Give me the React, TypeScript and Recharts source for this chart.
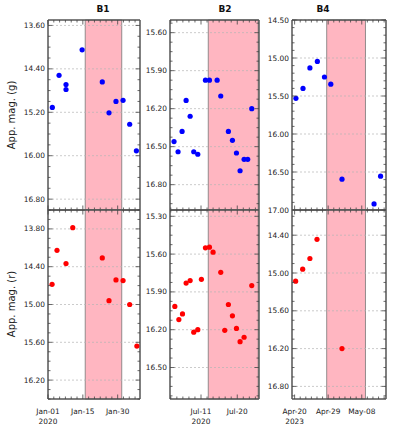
import React from 'react';
import { ScatterChart, Scatter, XAxis, YAxis, ReferenceArea, ReferenceLine } from 'recharts';

// days since Jan-01 2020 (B1), Jul-01 2020 (B2), Apr-20 2023 (B4)
const b1DaysG = [1.8, 4.6, 7.5, 7.5, 14.2, 22.6, 25.4, 28.3, 31.25, 34.0, 36.8];
const b1MagG = [15.11, 14.52, 14.69, 14.78, 14.05, 14.64, 15.21, 15.0, 14.98, 15.42, 15.91];
const b1DaysR = [1.7, 3.75, 7.5, 10.3, 22.6, 25.4, 28.3, 31.25, 34.0, 37.0];
const b1MagR = [14.68, 14.14, 14.35, 13.78, 14.26, 14.94, 14.61, 14.62, 15.0, 15.66];

const b2DaysG = [3.3, 4.3, 5.3, 6.3, 7.3, 8.2, 9.2, 11.1, 12.1, 14.0, 14.9, 16.8, 17.8, 18.8, 19.7, 20.7, 21.6, 22.6];
const b2MagG = [16.46, 16.54, 16.38, 16.135, 16.26, 16.54, 16.56, 15.975, 15.975, 15.975, 16.1, 16.38, 16.45, 16.55, 16.69, 16.6, 16.6, 16.2];
const b2DaysR = [3.5, 4.5, 5.4, 6.3, 7.3, 8.2, 9.2, 10.1, 11.1, 12.1, 13.0, 14.9, 15.9, 16.8, 17.8, 18.8, 19.7, 20.7, 22.6];
const b2MagR = [16.015, 16.12, 16.075, 15.83, 15.81, 16.22, 16.2, 15.8, 15.55, 15.545, 15.585, 15.745, 16.205, 16.0, 16.09, 16.19, 16.295, 16.26, 15.85];

const b4DaysG = [0.35, 2.25, 4.1, 6.1, 8.0, 9.7, 12.7, 21.3, 23.05];
const b4MagG = [15.53, 15.4, 15.13, 15.045, 15.25, 15.345, 16.595, 16.92, 16.555];
const b4DaysR = [0.27, 2.16, 4.1, 6.0, 12.7];
const b4MagR = [15.13, 14.94, 14.77, 14.465, 16.2];

// tick values / labels
const b1XTicks = [0, 14.5, 29];
const b1XLabels = [['Jan-01', '2020'], ['Jan-15'], ['Jan-30']];
const b2XTicks = [10, 19];
const b2XLabels = [['Jul-11', '2020'], ['Jul-20']];
const b4XTicks = [0, 9, 18];
const b4XLabels = [['Apr-20', '2023'], ['Apr-29'], ['May-08']];

const b1YTicksG = [13.6, 14.4, 15.2, 16.0, 16.8];
const b1YTicksR = [13.8, 14.4, 15.0, 15.6, 16.2];
const b2YTicksG = [15.6, 15.9, 16.2, 16.5, 16.8];
const b2YTicksR = [15.3, 15.6, 15.9, 16.2, 16.5];
const b4YTicksG = [14.5, 15.0, 15.5, 16.0, 16.5, 17.0];
const b4YTicksR = [14.4, 15.0, 15.6, 16.2, 16.8];

const AXIS = '#555';
const TICK = '#444';
const TXT = '#222';
const FONT = '"DejaVu Sans", sans-serif';

const zip = (xs: number[], ys: number[]) => xs.map((x, i) => ({ x, y: ys[i] }));

function withMinor(majors: number[], step: number, lo: number, hi: number) {
  const out: number[] = [];
  let v = majors[0];
  while (v - step >= lo - 1e-9) v -= step;
  for (; v <= hi + 1e-9; v += step) out.push(Math.round(v * 10000) / 10000);
  return out;
}
const isMajor = (v: number, majors: number[]) => majors.some((m) => Math.abs(m - v) < 1e-6);

interface PanelProps {
  left: number;
  top: number;
  w: number;
  h: number;
  data: { x: number; y: number }[];
  color: string;
  xDomain: [number, number];
  xMajors: number[];
  xStep: number;
  xLabels?: string[][];
  yDomain: [number, number];
  yMajors: number[];
  yStep: number;
  shade: [number, number];
}

const ML = 45;
const MT = 6;
const MR = 6;
const MB = 30;

function Panel(p: PanelProps) {
  const xt = withMinor(p.xMajors, p.xStep, p.xDomain[0], p.xDomain[1]);
  const yt = withMinor(p.yMajors, p.yStep, p.yDomain[0], p.yDomain[1]);

  const tickL = (t: any) => {
    const v = t.payload.value;
    const mj = isMajor(v, p.yMajors);
    return (
      <g>
        <line x1={t.x} x2={t.x + (mj ? 4.5 : 2.5)} y1={t.y} y2={t.y} stroke={TICK} strokeWidth={0.8} />
        {mj && (
          <text x={t.x - 3} y={t.y} dy="0.35em" textAnchor="end" fontSize={7.4} fill={TXT} fontFamily={FONT}>
            {v.toFixed(2)}
          </text>
        )}
      </g>
    );
  };
  const tickR = (t: any) => {
    const mj = isMajor(t.payload.value, p.yMajors);
    return <line x1={t.x} x2={t.x - (mj ? 4.5 : 2.5)} y1={t.y} y2={t.y} stroke={TICK} strokeWidth={0.8} />;
  };
  const tickT = (t: any) => {
    const mj = isMajor(t.payload.value, p.xMajors);
    return <line x1={t.x} x2={t.x} y1={t.y} y2={t.y + (mj ? 4.5 : 2.5)} stroke={TICK} strokeWidth={0.8} />;
  };
  const tickB = (t: any) => {
    const v = t.payload.value;
    const idx = p.xMajors.findIndex((m) => Math.abs(m - v) < 1e-6);
    const lines = idx >= 0 && p.xLabels ? p.xLabels[idx] : [];
    return (
      <g>
        <line x1={t.x} x2={t.x} y1={t.y} y2={t.y - (idx >= 0 ? 4.5 : 2.5)} stroke={TICK} strokeWidth={0.8} />
        {lines.map((s, i) => (
          <text key={i} x={t.x} y={t.y + 14.5 + i * 10} textAnchor="middle" fontSize={7.4} fill={TXT} fontFamily={FONT}>
            {s}
          </text>
        ))}
      </g>
    );
  };

  return (
    <div style={{ position: 'absolute', left: p.left - ML, top: p.top - MT }}>
      <ScatterChart width={p.w + ML + MR} height={p.h + MT + MB} margin={{ top: 0, right: 0, bottom: 0, left: 0 }}>
        <XAxis
          xAxisId="b"
          orientation="bottom"
          type="number"
          dataKey="x"
          domain={p.xDomain}
          allowDataOverflow
          ticks={xt}
          interval={0}
          tickSize={0}
          tickMargin={0}
          tickLine={false}
          axisLine={{ stroke: AXIS, strokeWidth: 1.5 }}
          tick={tickB}
          height={MB}
        />
        <XAxis
          xAxisId="t"
          orientation="top"
          type="number"
          dataKey="x"
          domain={p.xDomain}
          allowDataOverflow
          ticks={xt}
          interval={0}
          tickSize={0}
          tickMargin={0}
          tickLine={false}
          axisLine={{ stroke: AXIS, strokeWidth: 1.5 }}
          tick={tickT}
          height={MT}
        />
        <YAxis
          yAxisId="l"
          orientation="left"
          type="number"
          dataKey="y"
          domain={p.yDomain}
          reversed
          allowDataOverflow
          ticks={yt}
          interval={0}
          tickSize={0}
          tickMargin={0}
          tickLine={false}
          axisLine={{ stroke: AXIS, strokeWidth: 1.5 }}
          tick={tickL}
          width={ML}
        />
        <YAxis
          yAxisId="r"
          orientation="right"
          type="number"
          dataKey="y"
          domain={p.yDomain}
          reversed
          allowDataOverflow
          ticks={yt}
          interval={0}
          tickSize={0}
          tickMargin={0}
          tickLine={false}
          axisLine={{ stroke: AXIS, strokeWidth: 1.5 }}
          tick={tickR}
          width={MR}
        />
        <ReferenceArea
          xAxisId="b"
          yAxisId="l"
          x1={p.shade[0]}
          x2={p.shade[1]}
          fill="#ffb6c1"
          fillOpacity={1}
          stroke="#777"
          strokeWidth={0.8}
        />
        {p.yMajors.map((v) => (
          <ReferenceLine key={v} xAxisId="b" yAxisId="l" y={v} stroke="#b5b5b5" strokeDasharray="2 2" strokeWidth={0.7} />
        ))}
        <Scatter
          xAxisId="b"
          yAxisId="l"
          data={p.data}
          isAnimationActive={false}
          shape={(s: any) => <circle cx={s.cx} cy={s.cy} r={2.6} fill={p.color} />}
        />
      </ScatterChart>
    </div>
  );
}

const COLS = [
  { left: 48, w: 92 },
  { left: 170, w: 89 },
  { left: 292, w: 94 },
];
const ROWS = [
  { top: 20, h: 190 },
  { top: 210, h: 189 },
];

export default function App() {
  return (
    <div style={{ position: 'absolute', left: 0, top: 0, width: 397, height: 427, background: '#fff', fontFamily: FONT }}>
      <Panel {...COLS[0]} {...ROWS[0]} data={zip(b1DaysG, b1MagG)} color="#0000ff" xDomain={[0, 38.3]} xMajors={b1XTicks} xStep={14.5 / 6} yDomain={[13.5, 17.0]} yMajors={b1YTicksG} yStep={0.2} shade={[15.5, 30.7]} />
      <Panel {...COLS[0]} {...ROWS[1]} data={zip(b1DaysR, b1MagR)} color="#ff0000" xDomain={[0, 38.3]} xMajors={b1XTicks} xStep={14.5 / 6} xLabels={b1XLabels} yDomain={[13.5, 16.5]} yMajors={b1YTicksR} yStep={0.15} shade={[15.5, 30.7]} />
      <Panel {...COLS[1]} {...ROWS[0]} data={zip(b2DaysG, b2MagG)} color="#0000ff" xDomain={[2.3, 24.4]} xMajors={b2XTicks} xStep={1.5} yDomain={[15.5, 17.0]} yMajors={b2YTicksG} yStep={0.075} shade={[11.8, 24.2]} />
      <Panel {...COLS[1]} {...ROWS[1]} data={zip(b2DaysR, b2MagR)} color="#ff0000" xDomain={[2.3, 24.4]} xMajors={b2XTicks} xStep={1.5} xLabels={b2XLabels} yDomain={[15.25, 16.75]} yMajors={b2YTicksR} yStep={0.075} shade={[11.8, 24.2]} />
      <Panel {...COLS[2]} {...ROWS[0]} data={zip(b4DaysG, b4MagG)} color="#0000ff" xDomain={[-0.7, 24.5]} xMajors={b4XTicks} xStep={1.5} yDomain={[14.5, 17.0]} yMajors={b4YTicksG} yStep={0.1} shade={[8.6, 19.0]} />
      <Panel {...COLS[2]} {...ROWS[1]} data={zip(b4DaysR, b4MagR)} color="#ff0000" xDomain={[-0.7, 24.5]} xMajors={b4XTicks} xStep={1.5} xLabels={b4XLabels} yDomain={[14.0, 17.0]} yMajors={b4YTicksR} yStep={0.15} shade={[8.6, 19.0]} />
      <svg width={397} height={427} style={{ position: 'absolute', left: 0, top: 0, pointerEvents: 'none' }}>
        <text x={103} y={12} textAnchor="middle" fontWeight="bold" fontSize={9} fill="#111" fontFamily={FONT}>B1</text>
        <text x={225} y={12} textAnchor="middle" fontWeight="bold" fontSize={9} fill="#111" fontFamily={FONT}>B2</text>
        <text x={323} y={12} textAnchor="middle" fontWeight="bold" fontSize={9} fill="#111" fontFamily={FONT}>B4</text>
        <text transform="translate(15,115) rotate(-90)" textAnchor="middle" fontSize={10} fill={TXT} fontFamily={FONT}>App. mag. (g)</text>
        <text transform="translate(15,304) rotate(-90)" textAnchor="middle" fontSize={10} fill={TXT} fontFamily={FONT}>App. mag. (r)</text>
      </svg>
    </div>
  );
}
